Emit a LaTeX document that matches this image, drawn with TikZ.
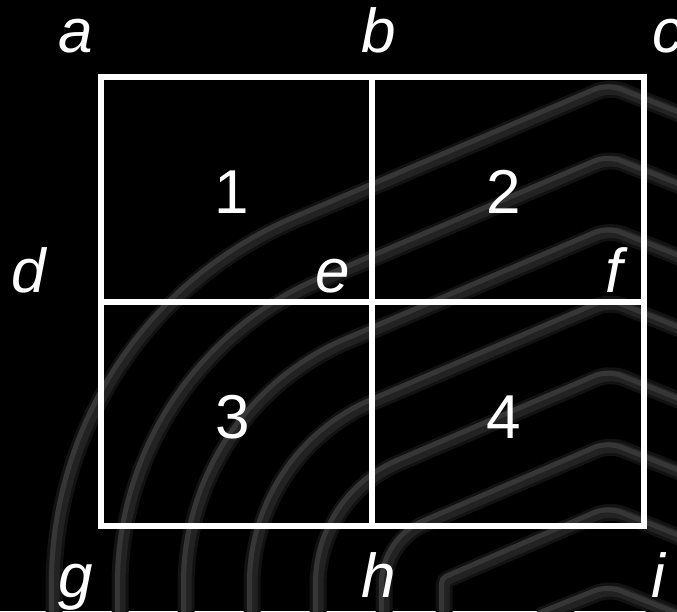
\documentclass[tikz,border=0pt]{standalone}
\usepackage{fontspec}
\setmainfont{Liberation Sans}
\usepackage{xcolor}
\definecolor{cBg}{HTML}{000000}
\definecolor{cGrid}{HTML}{FFFFFF}
\definecolor{cBand}{HTML}{363636}
\definecolor{cBandMid}{HTML}{222222}
\definecolor{cHalo}{HTML}{121212}
\usepackage{tikz}
\usetikzlibrary{calc}
\tikzset{
  grid-line/.style={draw=cGrid,line width=6pt},
  band-halo/.style={draw=cHalo,line width=17pt},
  band-mid/.style={draw=cBandMid,line width=11pt},
  band-core/.style={draw=cBand,line width=5pt,xshift=-2.5pt,yshift=2.5pt},
  node-letter/.style={text=cGrid,anchor=base,inner sep=0pt,
    font=\fontsize{62}{62}\selectfont\itshape},
  node-num/.style={text=cGrid,anchor=base,inner sep=0pt,
    font=\fontsize{62}{62}\selectfont},
}
\newcommand\bandpath[1]{%
  \draw[#1] (\x,-10) -- (\x,25) arc[start angle=180,end angle=112.8,radius=\R]
    [rounded corners=14pt] -- (610,\p) -- (700,\q);}

\begin{document}
\begin{tikzpicture}[x=1pt,y=1pt]
  \fill[cBg] (0,0) rectangle (677,611);
  \useasboundingbox (0,0) rectangle (677,611);
  % faint bands in the background
  \begin{scope}
    \clip (0,0) rectangle (677,611);
    \foreach \k in {0,...,6} {
      \pgfmathsetmacro{\R}{max(398-66*\k,8)}
      \pgfmathsetmacro{\x}{452-\R}
      \pgfmathsetmacro{\p}{93+1.0847*\R}
      \pgfmathsetmacro{\q}{\p-36}
      \bandpath{band-halo}
      \bandpath{band-mid}
      \bandpath{band-core}
    }
    \draw[band-halo,rounded corners=14pt] (540,-5) -- (610,23) -- (700,-13);
    \draw[band-mid,rounded corners=14pt] (540,-5) -- (610,23) -- (700,-13);
    \draw[band-core,rounded corners=14pt] (540,-5) -- (610,23) -- (700,-13);
  \end{scope}
  % grid points
  \coordinate (ptA) at (100.5,533.5);
  \coordinate (ptB) at (371.5,533.5);
  \coordinate (ptC) at (644,533.5);
  \coordinate (ptD) at (100.5,308.5);
  \coordinate (ptE) at (371.5,308.5);
  \coordinate (ptF) at (644,308.5);
  \coordinate (ptG) at (100.5,85.5);
  \coordinate (ptH) at (371.5,85.5);
  \coordinate (ptI) at (644,85.5);
  \draw[grid-line] (ptA) rectangle (ptI);
  \draw[grid-line] (ptB) -- (ptH);
  \draw[grid-line] (ptD) -- (ptF);
  % letters
  \node[node-letter] (lblA) at (75.5,558) {a};
  \node[node-letter] (lblB) at (379,558) {b};
  \node[node-letter] (lblC) at (668,558) {c};
  \node[node-letter] (lblD) at (29,318) {d};
  \node[node-letter] (lblE) at (333,318) {e};
  \node[node-letter] (lblF) at (614,318) {f};
  \node[node-letter] (lblG) at (75.5,14) {g};
  \node[node-letter] (lblH) at (379,14) {h};
  \node[node-letter] (lblI) at (658.5,14) {i};
  % cell numbers
  \node[node-num] (num1) at (232,397) {1};
  \node[node-num] (num2) at (504,397) {2};
  \node[node-num] (num3) at (233,173) {3};
  \node[node-num] (num4) at (504,173) {4};
\end{tikzpicture}
\end{document}
